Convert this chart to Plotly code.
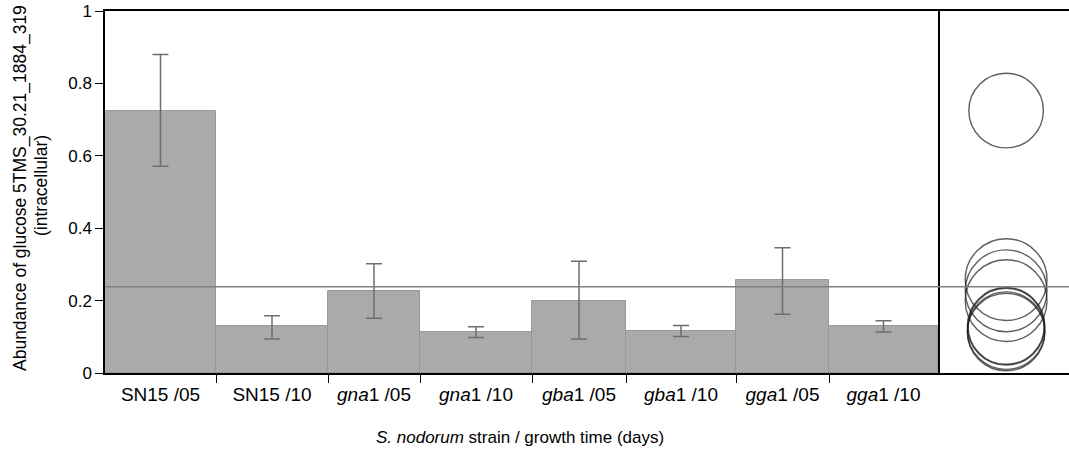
import plotly.graph_objects as go

# ---- data ----
strains = ["SN15", "SN15", "gna", "gna", "gba", "gba", "gga", "gga"]
days = ["05", "10", "05", "10", "05", "10", "05", "10"]
italic = [False, False, True, True, True, True, True, True]
means = [0.725, 0.129, 0.227, 0.113, 0.200, 0.117, 0.258, 0.129]
err_hi = [0.880, 0.158, 0.302, 0.128, 0.309, 0.131, 0.346, 0.144]
err_lo = [0.571, 0.094, 0.151, 0.098, 0.094, 0.101, 0.162, 0.113]
bar_widths = [111, 112, 92, 112, 94, 110, 93, 109]   # relative group sizes
circle_radius = [0.103, 0.107, 0.113, 0.107, 0.113, 0.107, 0.113, 0.105]
grand_mean = 0.238
y_ticks = [0, 0.2, 0.4, 0.6, 0.8, 1.0]
y_ticktext = ["0", "0.2", "0.4", "0.6", "0.8", "1"]

# ---- layout geometry ----
W, H = 1069, 457
ML, MR, MT, MB = 105, 0, 11, 84
plot_w = W - ML - MR
plot_h = H - MT - MB
total = sum(bar_widths)
main_frac = 833 / plot_w

edges = [0]
for w in bar_widths:
    edges.append(edges[-1] + w)
centers = [(edges[i] + edges[i + 1]) / 2 for i in range(len(bar_widths))]
labels = [(f"<i>{s}</i>1 /{d}" if it else f"{s} /{d}") for s, d, it in zip(strains, days, italic)]

FONT = "Liberation Sans, Arial, sans-serif"

fig = go.Figure()
fig.add_trace(go.Bar(
    x=centers, y=means, width=bar_widths,
    marker=dict(color="#aaaaaa", line=dict(color="#999999", width=1)),
    error_y=dict(type="data", symmetric=False,
                 array=[h - m for h, m in zip(err_hi, means)],
                 arrayminus=[m - l for m, l in zip(means, err_lo)],
                 color="#6e6e6e", thickness=1.5, width=8),
    xaxis="x", yaxis="y", showlegend=False, hoverinfo="skip",
))

fig.add_trace(go.Scatter(
    x=[0.52] * len(means), y=means, mode="markers",
    marker=dict(symbol="circle-open", size=[2 * r * plot_h for r in circle_radius],
                color="#1a1a1a", line=dict(width=1.4, color="#1a1a1a")),
    xaxis="x2", yaxis="y", showlegend=False, hoverinfo="skip",
))

# label-only overlay axis needs a trace
fig.add_trace(go.Scatter(x=[centers[0]], y=[0], mode="markers", marker=dict(opacity=0),
                         xaxis="x3", yaxis="y", showlegend=False, hoverinfo="skip"))

# mean line across both panels
fig.add_shape(type="line", xref="paper", yref="y", x0=0, x1=1,
              y0=grand_mean, y1=grand_mean,
              line=dict(color="#808080", width=1.5), layer="above")

fig.update_layout(
    width=W, height=H,
    margin=dict(l=ML, r=MR, t=MT, b=MB, autoexpand=False),
    paper_bgcolor="white", plot_bgcolor="white",
    bargap=0,
    xaxis=dict(domain=[0, main_frac], range=[0, total], showgrid=False, zeroline=False,
               showline=True, linecolor="black", linewidth=1.5, mirror=True,
               tickmode="array", tickvals=edges[1:-1], ticktext=[""] * (len(edges) - 2),
               ticks="outside", ticklen=8, tickcolor="black", tickwidth=1),
    xaxis3=dict(overlaying="x", anchor="y", side="bottom", range=[0, total],
                showgrid=False, zeroline=False, showline=False,
                tickmode="array", tickvals=centers, ticktext=labels, ticks="",
                ticklabelstandoff=8,
                tickfont=dict(family=FONT, size=19, color="black")),
    xaxis2=dict(domain=[main_frac, 1], range=[0, 1], anchor="y", showgrid=False,
                zeroline=False, showticklabels=False, ticks="",
                showline=True, linecolor="black", linewidth=1.5, mirror=True),
    yaxis=dict(domain=[0, 1], range=[0, 1], anchor="x", showgrid=False, zeroline=False,
               showline=True, linecolor="black", linewidth=1.5, mirror=True,
               tickmode="array", tickvals=y_ticks, ticktext=y_ticktext,
               ticks="outside", ticklen=8, tickcolor="black",
               tickfont=dict(family=FONT, size=17, color="black")),
)


def px_x(p):
    return (p - ML) / plot_w


def px_y(p):
    return 1 - (p - MT) / plot_h


fig.add_annotation(text="Abundance of glucose 5TMS_30.21_1884_319", textangle=-90,
                   xref="paper", yref="paper", x=px_x(20), y=px_y(188),
                   showarrow=False, xanchor="center", yanchor="middle",
                   font=dict(family=FONT, size=17.5, color="black"))
fig.add_annotation(text="(intracellular)", textangle=-90,
                   xref="paper", yref="paper", x=px_x(41), y=px_y(186),
                   showarrow=False, xanchor="center", yanchor="middle",
                   font=dict(family=FONT, size=17.5, color="black"))
fig.add_annotation(text="<i>S. nodorum</i> strain / growth time (days)",
                   xref="paper", yref="paper", x=px_x(520), y=px_y(437),
                   showarrow=False, xanchor="center", yanchor="middle",
                   font=dict(family=FONT, size=17, color="black"))

fig.write_html("out.html", config={"displayModeBar": False},
               post_script="document.body.style.margin='0';document.body.style.overflow='hidden';")
